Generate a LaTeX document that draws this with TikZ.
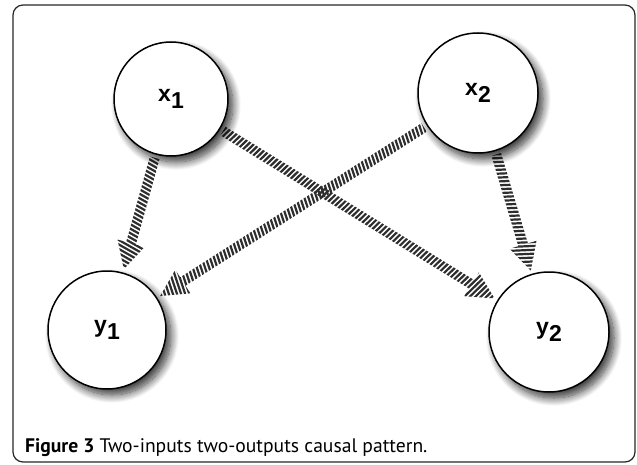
\documentclass[tikz,border=0pt]{standalone}
\usepackage{fontspec}
\setmainfont{Liberation Sans}
\newfontfamily\capfont{PT Sans}
\usetikzlibrary{calc,shadows.blur,decorations.markings}
\pgfdeclarelayer{bg}
\pgfsetlayers{bg,main}
\tikzset{
  var/.style={circle, draw=black, line width=1.5pt, fill=white, inner sep=0pt, outer sep=4pt,
    font=\fontsize{23}{23}\selectfont\bfseries,
    blur shadow={shadow xshift=5pt, shadow yshift=-6pt, shadow blur radius=8pt, shadow opacity=80, shadow blur steps=14}},
  frame/.style={draw=black!85, line width=1.2pt, rounded corners=10pt},
  stripes/.style={decorate, decoration={markings,
     mark=between positions 0 and 1 step 4pt with {\draw[black!82, line width=2.2pt] (-4pt,-16pt) -- (4pt,16pt);}}},
}
\newcommand{\hatcharrow}[2]{%
  \path (#1) -- (#2) coordinate[pos=0] (hs) coordinate[pos=1] (he);
  \coordinate (hb) at ($(he)!27pt!(hs)$);
  \begin{scope}
    \clip ($(hs)!5pt!90:(he)$) -- ($(hb)!5pt!90:(he)$) -- ($(hb)!14pt!90:(he)$) -- (he)
       -- ($(hb)!14pt!-90:(he)$) -- ($(hb)!5pt!-90:(he)$) -- ($(hs)!5pt!-90:(he)$) -- cycle;
    \path[stripes] (hs) -- (he);
  \end{scope}
}
\begin{document}
\begin{tikzpicture}[x=1pt,y=-1pt]
\useasboundingbox (0,0) rectangle (637,465);
\node[var, minimum size=114pt] (x1) at (171,99) {x\raisebox{-0.32em}{1}};
\node[var, minimum size=120pt] (x2) at (478,93) {x\raisebox{-0.32em}{2}};
\node[var, minimum size=118pt] (y1) at (107,330) {y\raisebox{-0.32em}{1}};
\node[var, minimum size=120pt] (y2) at (549,332) {y\raisebox{-0.32em}{2}};
\node[anchor=base west, inner sep=0pt, font=\capfont\fontsize{19.6}{22}\selectfont] (cap) at (25,452)
  {\textbf{Figure 3} Two-inputs two-outputs causal pattern.};
\begin{pgfonlayer}{bg}
  \draw[frame] (13,5) rectangle (635,462);
  \hatcharrow{x1}{y1}
  \hatcharrow{x1}{y2}
  \hatcharrow{x2}{y1}
  \hatcharrow{x2}{y2}
\end{pgfonlayer}
\end{tikzpicture}
\end{document}
